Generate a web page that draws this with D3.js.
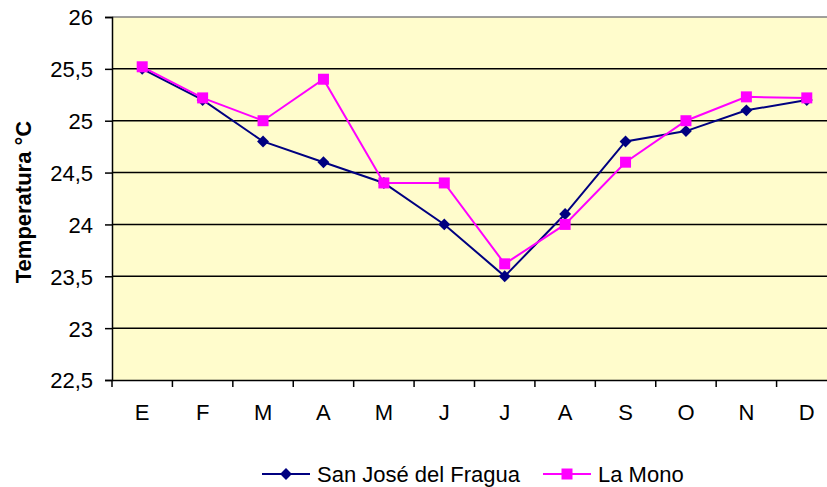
<!DOCTYPE html>
<html><head><meta charset="utf-8">
<script src="https://cdn.jsdelivr.net/npm/d3@7"></script>
<style>body{margin:0;background:#fff;overflow:hidden}svg{display:block}</style>
</head><body>
<svg id="c" width="827" height="487"></svg>
<script>
const months = ["E","F","M","A","M","J","J","A","S","O","N","D"];
const sanJose = [25.5,25.2,24.8,24.6,24.4,24.0,23.5,24.1,24.8,24.9,25.1,25.2];
const laMono = [25.52,25.22,25.0,25.4,24.4,24.4,23.62,24.0,24.6,25.0,25.23,25.22];
const yTicks = [22.5,23,23.5,24,24.5,25,25.5,26];
const seriesNames = ["San José del Fragua","La Mono"];

const FONT = "Arial, 'Liberation Sans', sans-serif";
const FS = 22;
const svg = d3.select("#c");
const L=112, R=837, T=17, B=380;
const idx = months.map((d,i)=>i);
const x = d3.scaleBand().domain(idx).range([L,R]);
const y = d3.scaleLinear().domain([22.5,26]).range([B,T]);
const fmt = d => String(d).replace(".",",");

svg.append("rect").attr("x",L).attr("y",T).attr("width",R-L).attr("height",B-T).attr("fill","#FFFCCC");
svg.append("g").selectAll("line").data(yTicks.filter(v=>v>22.5 && v<26)).join("line")
  .attr("x1",L).attr("x2",R).attr("y1",d=>y(d)).attr("y2",d=>y(d)).attr("stroke","#000").attr("stroke-width",1.5);
svg.append("line").attr("x1",L).attr("x2",R).attr("y1",T).attr("y2",T).attr("stroke","#808080").attr("stroke-width",1.5);

const ya = svg.append("g").attr("transform",`translate(${L},0)`)
  .call(d3.axisLeft(y).tickValues(yTicks).tickFormat(fmt).tickSize(7).tickPadding(12));
ya.select(".domain").attr("stroke","#000").attr("stroke-width",1.5);
ya.selectAll("line").attr("stroke","#000").attr("stroke-width",1.5);
ya.selectAll("text").attr("font-family",FONT).attr("font-size",FS).attr("fill","#000").attr("dy","0.36em");

const xa = svg.append("g").attr("transform",`translate(0,${B})`)
  .call(d3.axisBottom(x).tickFormat(i=>months[i]).tickSize(0).tickPadding(24));
xa.select(".domain").attr("stroke","#000").attr("stroke-width",1.5);
xa.selectAll("text").attr("font-family",FONT).attr("font-size",FS).attr("fill","#000");
svg.append("g").selectAll("line").data(d3.range(months.length+1)).join("line")
  .attr("x1",i=>L+i*x.bandwidth()).attr("x2",i=>L+i*x.bandwidth())
  .attr("y1",B).attr("y2",B+7).attr("stroke","#000").attr("stroke-width",1.5);

svg.append("text").attr("transform","translate(31,202) rotate(-90)").attr("text-anchor","middle")
  .attr("font-family",FONT).attr("font-weight","bold").attr("font-size",FS).text("Temperatura °C");

const cx = i => x(i)+x.bandwidth()/2;
const line = d3.line().x((d,i)=>cx(i)).y(d=>y(d));
const diamond = d3.symbol().type(d3.symbolDiamond2).size(90);
const square = d3.symbol().type(d3.symbolSquare).size(121);

svg.append("path").datum(sanJose).attr("d",line).attr("fill","none").attr("stroke","#000080").attr("stroke-width",2);
svg.append("g").selectAll("path").data(sanJose).join("path")
  .attr("d",diamond).attr("transform",(d,i)=>`translate(${cx(i)},${y(d)})`).attr("fill","#000080");
svg.append("path").datum(laMono).attr("d",line).attr("fill","none").attr("stroke","#FF00FF").attr("stroke-width",2);
svg.append("g").selectAll("path").data(laMono).join("path")
  .attr("d",square).attr("transform",(d,i)=>`translate(${cx(i)},${y(d)})`).attr("fill","#FF00FF");

const lg = svg.append("g");
const LY = 474;
const legendItems = [
  {name:seriesNames[0], color:"#000080", sym:diamond, x:262},
  {name:seriesNames[1], color:"#FF00FF", sym:square, x:543}
];
legendItems.forEach(it=>{
  lg.append("line").attr("x1",it.x).attr("x2",it.x+48).attr("y1",LY).attr("y2",LY).attr("stroke",it.color).attr("stroke-width",2);
  lg.append("path").attr("d",it.sym).attr("transform",`translate(${it.x+24},${LY})`).attr("fill",it.color);
  lg.append("text").attr("x",it.x+55).attr("y",LY).attr("dy","0.36em")
    .attr("font-family",FONT).attr("font-size",FS).text(it.name);
});
</script>
</body></html>
